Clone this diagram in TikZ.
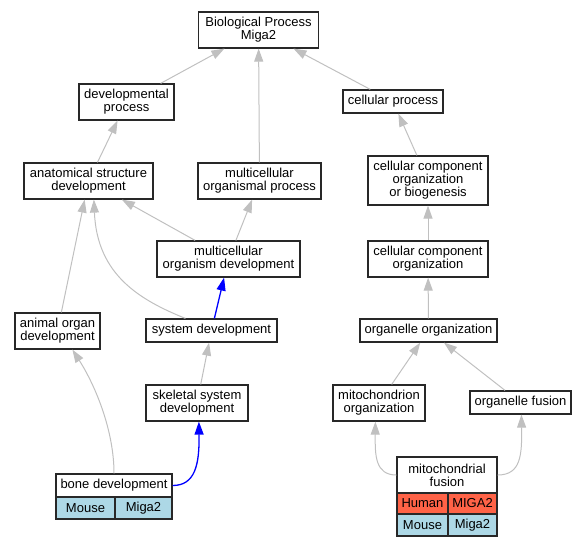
\documentclass[tikz,border=0pt]{standalone}
\usepackage{fontspec}
\setmainfont{Liberation Sans}
\usetikzlibrary{arrows.meta,calc}
\definecolor{edgegray}{RGB}{192,192,192}
\definecolor{humanred}{RGB}{255,99,71}
\definecolor{mouseblue}{RGB}{173,216,230}
\definecolor{boxline}{RGB}{40,40,40}
\begin{document}
\begin{tikzpicture}[x=1pt,y=-1pt,
  gobox/.style={draw=boxline,line width=1.2pt,fill=white,inner sep=0pt,align=center,
    font=\fontsize{13}{13}\selectfont},
  gedge/.style={draw=edgegray,line width=1pt,-{Triangle[length=13pt,width=9pt,fill=edgegray]}},
  bedge/.style={draw=blue,line width=1.3pt,-{Triangle[length=13pt,width=9pt,fill=blue]}},
  sz/.style 2 args={minimum width=#1pt,minimum height=#2pt}]
\useasboundingbox (0,0) rectangle (585,547);
% nodes
\node[gobox,sz={120}{36}] (bp) at (258.5,30) {Biological Process\\Miga2};
\node[gobox,sz={95}{36}] (devp) at (126.5,102) {developmental\\process};
\node[gobox,sz={100}{23}] (cellp) at (393,101.5) {cellular process};
\node[gobox,sz={129}{36}] (asd) at (88.5,181) {anatomical structure\\development};
\node[gobox,sz={123}{36}] (mop) at (259.5,181) {multicellular\\organismal process};
\node[gobox,sz={120}{49}] (ccob) at (428,180.5) {cellular component\\organization\\or biogenesis};
\node[gobox,sz={143}{36}] (mod) at (228.5,259) {multicellular\\organism development};
\node[gobox,sz={120}{36}] (cco) at (428,259) {cellular component\\organization};
\node[gobox,sz={85}{36}] (aod) at (57.5,331) {animal organ\\development};
\node[gobox,sz={131}{23}] (sysd) at (211.5,330.5) {system development};
\node[gobox,sz={137}{23}] (oo) at (428.5,330.5) {organelle organization};
\node[gobox,sz={102}{36}] (ssd) at (197,403) {skeletal system\\development};
\node[gobox,sz={92}{36}] (mito) at (379,403) {mitochondrion\\organization};
\node[gobox,sz={101}{23}] (of) at (520.5,402.5) {organelle fusion};
% bone development table
\node[gobox,sz={116}{23}] (bonehead) at (114,485.5) {bone development};
\node[gobox,sz={59}{22},fill=mouseblue] (bonemouse) at (85.5,508) {Mouse};
\node[gobox,sz={57}{22},fill=mouseblue] (bonegene) at (143.5,508) {Miga2};
% mitochondrial fusion table
\node[gobox,sz={100}{36}] (mfhead) at (447,475) {mitochondrial\\fusion};
\node[gobox,sz={51}{21},fill=humanred] (mfhuman) at (422.5,503.5) {Human};
\node[gobox,sz={49}{21},fill=humanred] (mfhgene) at (472.5,503.5) {MIGA2};
\node[gobox,sz={51}{22},fill=mouseblue] (mfmouse) at (422.5,525) {Mouse};
\node[gobox,sz={49}{22},fill=mouseblue] (mfmgene) at (472.5,525) {Miga2};
% edges
\begin{scope}[on background layer/.style={}]
\draw[gedge] (devp) -- (bp);
\draw[gedge] (mop) -- (bp);
\draw[gedge] (cellp) -- (bp);
\draw[gedge] (asd) -- (devp);
\draw[gedge] (ccob) -- (cellp);
\draw[gedge] (mod) -- (asd);
\draw[gedge] (mod) -- (mop);
\draw[gedge] (cco) -- (ccob);
\draw[gedge] (aod) -- (asd);
\draw[gedge] ($(sysd.north west)+(40,0)$) .. controls (140,300) and (97,275) .. ($(asd.south west)+(70.5,0)$);
\draw[bedge] (sysd) -- (mod);
\draw[gedge] (oo) -- (cco);
\draw[gedge] (ssd) -- (sysd);
\draw[gedge] (mito) -- (oo);
\draw[gedge] (of) -- (oo);
\draw[gedge] (bonehead.north) .. controls (114,430) and (95,385) .. ($(aod.south west)+(58,0)$);
\draw[bedge] (bonehead.east) .. controls (195,485.5) and (199.5,465) .. ($(ssd.south west)+(53.5,0)$);
\draw[gedge] (mfhead.west) .. controls (375,475) and (375,455) .. ($(mito.south west)+(43,0)$);
\draw[gedge] (mfhead.east) .. controls (521,475) and (522,455) .. ($(of.south west)+(52,0)$);
\end{scope}
\end{tikzpicture}
\end{document}
